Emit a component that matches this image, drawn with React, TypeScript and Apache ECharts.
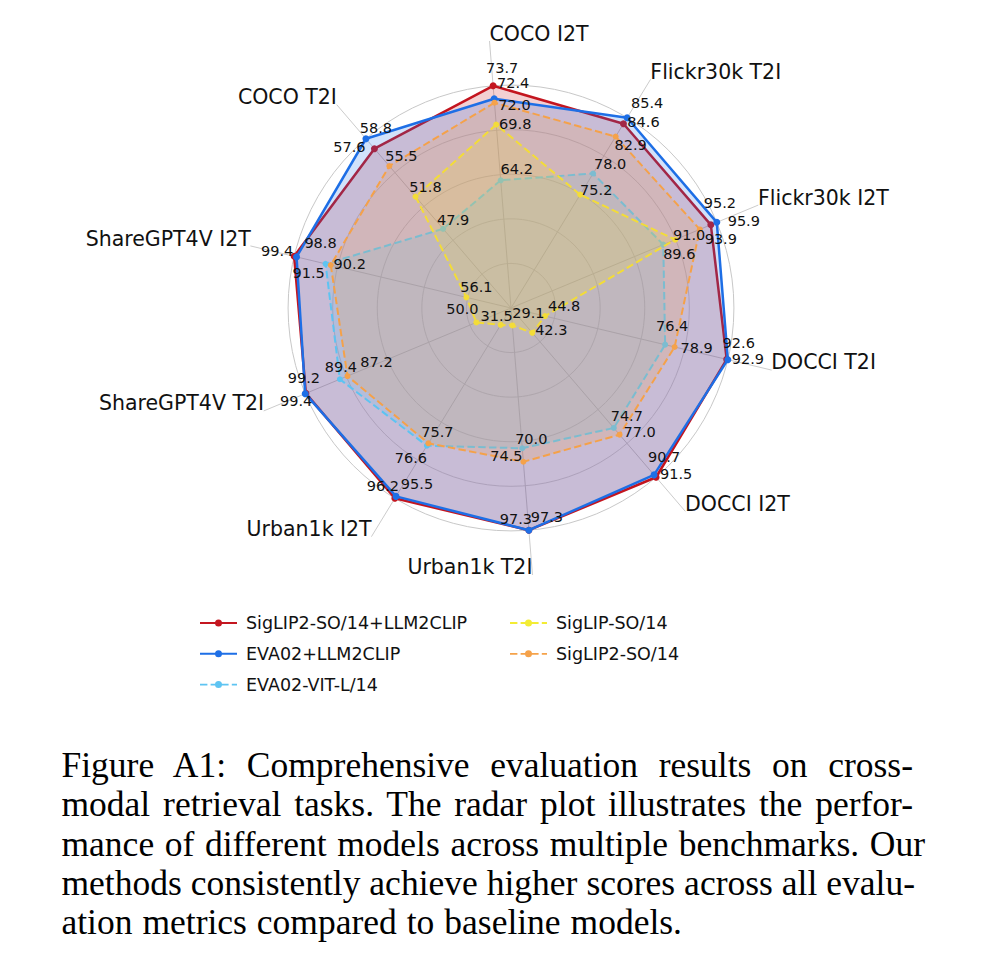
import React, { useEffect, useRef } from 'react';
import * as echarts from 'echarts';

// ---------------- data ----------------
const benchmarks = [
  'COCO I2T',
  'Flickr30k T2I',
  'Flickr30k I2T',
  'DOCCI T2I',
  'DOCCI I2T',
  'Urban1k T2I',
  'Urban1k I2T',
  'ShareGPT4V T2I',
  'ShareGPT4V I2T',
  'COCO T2I',
];

const seriesNames = [
  'SigLIP2-SO/14+LLM2CLIP',
  'EVA02+LLM2CLIP',
  'EVA02-VIT-L/14',
  'SigLIP-SO/14',
  'SigLIP2-SO/14',
];

const siglip2Llm2clip = [73.7, 84.6, 95.2, 92.6, 91.5, 97.3, 96.2, 99.2, 99.4, 57.6];
const eva02Llm2clip = [72.4, 85.4, 95.9, 92.9, 90.7, 97.3, 95.5, 99.4, 98.8, 58.8];
const eva02VitL14 = [64.2, 78.0, 89.6, 76.4, 74.7, 70.0, 76.6, 89.4, 91.5, 47.9];
const siglipSo14 = [69.8, 75.2, 91.0, 44.8, 42.3, 29.1, 31.5, 50.0, 56.1, 51.8];
const siglip2So14 = [72.0, 82.9, 93.9, 78.9, 77.0, 74.5, 75.7, 87.2, 90.2, 55.5];

const captionLines = [
  'Figure A1: Comprehensive evaluation results on cross-',
  'modal retrieval tasks. The radar plot illustrates the perfor-',
  'mance of different models across multiple benchmarks. Our',
  'methods consistently achieve higher scores across all evalu-',
  'ation metrics compared to baseline models.',
];

// ---------------- styles ----------------
const allValues = [siglip2Llm2clip, eva02Llm2clip, eva02VitL14, siglipSo14, siglip2So14];
const colors = ['#c41620', '#1e6fe6', '#5ec4f2', '#f3ec34', '#f5a24a'];
const dashed = [false, false, true, true, true];
const lineWidths = [2.5, 2.5, 2, 2, 2];
const symbolSizes = [7, 7, 6, 6, 6];

// label offsets (label centre minus point), per series, per benchmark
const labelOffsets: number[][][] = [
  [[9, -18], [20, -2], [9, -22], [12, -16], [20, -3], [-13, -11], [-12, -12], [-2, -15], [-17, -5], [-25, -2]],
  [[19, -16], [20, -15], [27, -1], [20, -1], [10, -18], [18, -13], [21, -12], [-9, 7], [24, -14], [10, -11]],
  [[16, -11], [17, -10], [16, 9], [7, -19], [13, -12], [9, -9], [-16, 12], [1, -12], [-17, 9], [10, -9]],
  [[19, -1], [16, -5], [14, -5], [19, -10], [19, -3], [16, -12], [-4, -9], [-14, -13], [10, -10], [10, -10]],
  [[20, 2], [15, 8], [21, 10], [22, 1], [20, -3], [-17, -6], [9, -11], [29, -14], [19, -1], [12, -10]],
];

const CX = 511;
const CY = 308;
const RADIUS = 267.5; // spokes reach 1.2 of the normalised scale
const START_ANGLE = 94.6;
const FONT = '"DejaVu Sans", sans-serif';

const ICON_SOLID = 'path://M0,2.5H37V4.5H0Z M18.5,0A3.5,3.5,0,1,1,18.5,7A3.5,3.5,0,1,1,18.5,0Z';
const ICON_DASHED =
  'path://M0,2.6H7.4V4.4H0Z M10.6,2.6H16V4.4H10.6Z M21,2.6H28.6V4.4H21Z M31.8,2.6H37V4.4H31.8Z M18.5,0A3.5,3.5,0,1,1,18.5,7A3.5,3.5,0,1,1,18.5,0Z';

// ---------------- option ----------------
function buildOption() {
  const n = benchmarks.length;
  // ECharts radar runs counter-clockwise; reorder so the chart runs clockwise
  const order = [0];
  for (let i = n - 1; i >= 1; i--) order.push(i);

  const indicator = order.map((k) => {
    const col = allValues.map((s) => s[k]);
    const lo = 0.8 * Math.min(...col);
    const hi = Math.max(...col);
    return { name: benchmarks[k], min: lo, max: lo + 1.2 * (hi - lo) };
  });

  const shapeSeries = allValues.map((vals, s) => ({
    type: 'radar',
    name: seriesNames[s],
    z: 2 + s,
    symbol: 'circle',
    symbolSize: symbolSizes[s],
    data: [{ name: seriesNames[s], value: order.map((k) => vals[k]) }],
    itemStyle: { color: colors[s], borderWidth: 0 },
    lineStyle: {
      color: colors[s],
      width: lineWidths[s],
      type: dashed[s] ? [7.4, 3.4] : 'solid',
      cap: 'butt',
    },
    areaStyle: { color: colors[s], opacity: 0.2 },
    label: { show: false },
    emphasis: { disabled: true },
  }));

  // value labels on top of every filled polygon
  const labelSeries = allValues.map((vals, s) => ({
    type: 'radar',
    name: seriesNames[s] + ' values',
    z: 20 + s,
    symbol: 'circle',
    symbolSize: 1,
    data: [{ name: seriesNames[s] + ' values', value: order.map((k) => vals[k]) }],
    itemStyle: { color: 'rgba(0,0,0,0)', borderWidth: 0 },
    lineStyle: { width: 0, opacity: 0 },
    label: {
      show: true,
      position: 'inside',
      color: '#111',
      fontSize: 14.5,
      fontFamily: FONT,
      textBorderWidth: 0,
      formatter: (p: any) => (Array.isArray(p.value) ? '' : Number(p.value).toFixed(1)),
    },
    labelLayout: (p: any) => {
      const k = allValues[s].findIndex((v) => v.toFixed(1) === p.text);
      const off = k >= 0 ? labelOffsets[s][k] : [14, -8];
      return { dx: off[0], dy: off[1] };
    },
    silent: true,
    emphasis: { disabled: true },
  }));

  const names = benchmarks.map((name, i) => {
    const a = ((START_ANGLE - (i * 360) / n) * Math.PI) / 180;
    const x = CX + RADIUS * Math.cos(a);
    const y = CY - RADIUS * Math.sin(a);
    const left = i < n / 2;
    return {
      type: 'text',
      x,
      y: y + 3,
      silent: true,
      style: {
        text: name,
        fontSize: 20.5,
        fontFamily: FONT,
        fill: '#111',
        align: left ? 'left' : 'right',
        verticalAlign: 'bottom',
        textAlign: left ? 'left' : 'right',
        textVerticalAlign: 'bottom',
      },
    };
  });

  const legendBase = {
    orient: 'vertical',
    top: 609,
    itemGap: 12.8,
    itemWidth: 37,
    itemHeight: 7,
    selectedMode: false,
    itemStyle: { borderWidth: 0 },
    textStyle: { fontSize: 17.5, fontFamily: FONT, color: '#111', padding: [0, 0, 0, 4] },
  };

  return {
    animation: false,
    backgroundColor: '#ffffff',
    radar: {
      center: [CX, CY],
      radius: RADIUS,
      startAngle: START_ANGLE,
      splitNumber: 6,
      shape: 'circle',
      indicator,
      axisName: { show: false },
      splitArea: { show: false },
      splitLine: {
        lineStyle: {
          color: ['#cccccc', '#d6d6d6', '#d6d6d6', '#d6d6d6', '#d6d6d6', '#c8c8c8', 'rgba(0,0,0,0)'],
          width: 1,
        },
      },
      axisLine: { lineStyle: { color: '#cccccc', width: 1 } },
    },
    legend: [
      {
        ...legendBase,
        left: 195,
        data: [0, 1, 2].map((s) => ({ name: seriesNames[s], icon: dashed[s] ? ICON_DASHED : ICON_SOLID })),
      },
      {
        ...legendBase,
        left: 505,
        data: [3, 4].map((s) => ({ name: seriesNames[s], icon: dashed[s] ? ICON_DASHED : ICON_SOLID })),
      },
    ],
    graphic: names,
    series: [...shapeSeries, ...labelSeries],
  };
}

export default function App() {
  const ref = useRef<HTMLDivElement>(null);
  useEffect(() => {
    if (!ref.current) return;
    const chart = echarts.init(ref.current, null, { renderer: 'svg' });
    chart.setOption(buildOption() as any);
    return () => chart.dispose();
  }, []);

  const rights = [913, 913, 925, 915, 682];
  const LEFT = 61.5;
  return (
    <div style={{ position: 'absolute', left: 0, top: 0, width: 996, height: 968, background: '#fff' }}>
      <div ref={ref} style={{ position: 'absolute', left: 0, top: 0, width: 996, height: 968 }} />
      <div
        style={{
          position: 'absolute',
          left: LEFT,
          top: 746.1,
          fontFamily: '"Liberation Serif", "Times New Roman", serif',
          fontSize: 35.5,
          lineHeight: '39.3px',
          color: '#000',
        }}
      >
        {captionLines.map((line, i) => (
          <div
            key={i}
            style={{
              width: rights[i] - LEFT,
              textAlign: 'justify',
              textAlignLast: 'justify',
            }}
          >
            {line}
          </div>
        ))}
      </div>
    </div>
  );
}
